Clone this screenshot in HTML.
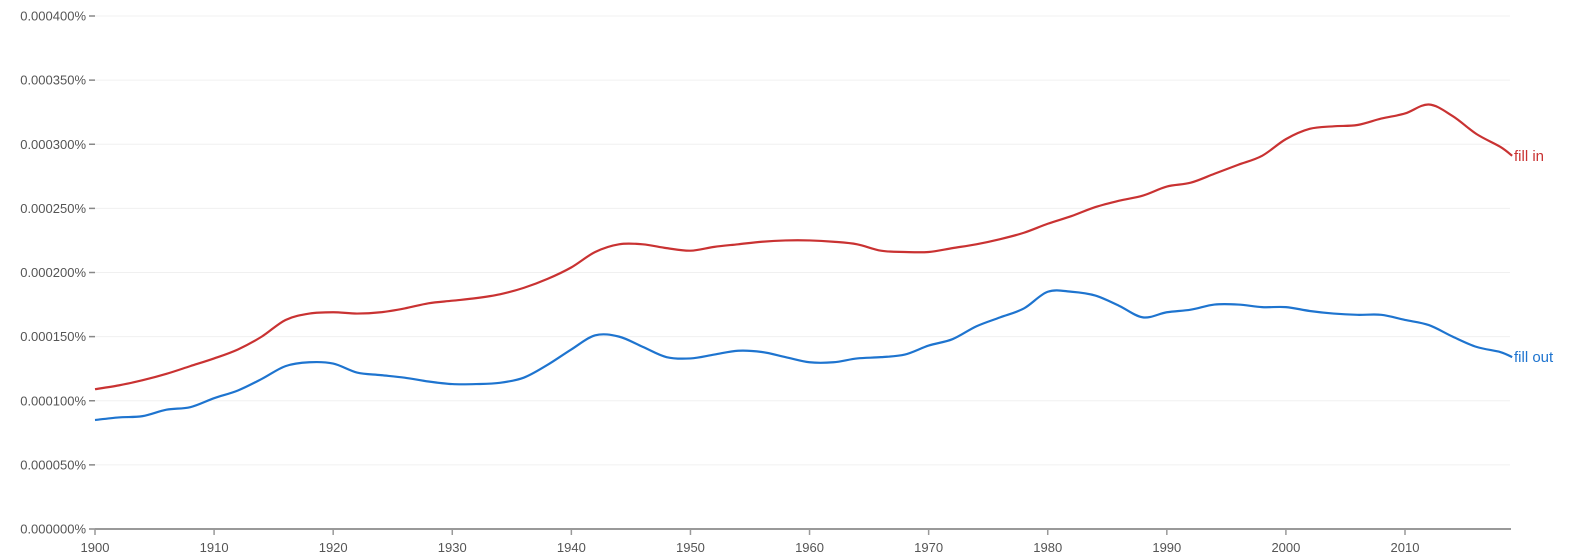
<!DOCTYPE html>
<html><head><meta charset="utf-8"><style>
html,body{margin:0;padding:0;background:#fff;}
svg{display:block;font-family:"Liberation Sans",sans-serif;}
</style></head><body>
<svg id="chart" width="1580" height="560"></svg>
<script>
const years=[1900,1902,1904,1906,1908,1910,1912,1914,1916,1918,1920,1922,1924,1926,1928,1930,1932,1934,1936,1938,1940,1942,1944,1946,1948,1950,1952,1954,1956,1958,1960,1962,1964,1966,1968,1970,1972,1974,1976,1978,1980,1982,1984,1986,1988,1990,1992,1994,1996,1998,2000,2002,2004,2006,2008,2010,2012,2014,2016,2018,2019];
const fillIn=[109,112,116,121,127,133,140,150,163,168,169,168,169,172,176,178,180,183,188,195,204,216,222,222,219,217,220,222,224,225,225,224,222,217,216,216,219,222,226,231,238,244,251,256,260,267,270,277,284,291,304,312,314,315,320,324,331,322,308,298,291];
const fillOut=[85,87,88,93,95,102,108,117,127,130,129,122,120,118,115,113,113,114,118,128,140,151,150,142,134,133,136,139,138,134,130,130,133,134,136,143,148,158,165,172,185,185,182,174,165,169,171,175,175,173,173,170,168,167,167,163,159,150,142,138,134];
const yTicks=[0,50,100,150,200,250,300,350,400];
const yTickLabels=["0.000000%","0.000050%","0.000100%","0.000150%","0.000200%","0.000250%","0.000300%","0.000350%","0.000400%"];
const xTicks=[1900,1910,1920,1930,1940,1950,1960,1970,1980,1990,2000,2010];

const NS="http://www.w3.org/2000/svg";
const svg=document.getElementById('chart');
const x0=95,x1=1405;
const X=y=>x0+(y-1900)*(x1-x0)/110;
const Y=v=>529-v*513/400;
function mk(t,a){const e=document.createElementNS(NS,t);for(const k in a)e.setAttribute(k,a[k]);svg.appendChild(e);return e;}

yTicks.forEach((v,i)=>{
  const g=mk('line',{x1:95,x2:1510,y1:Y(v),y2:Y(v),stroke:i?'#f0f0f0':'none','stroke-width':1});
  
  
  const tk=mk('line',{x1:89,x2:95,y1:Y(v),y2:Y(v),stroke:'#888','stroke-width':1.5});
  
  
  const t=mk('text',{x:86,y:Y(v)+4.5,'text-anchor':'end','font-size':13,fill:'#555'});
  t.textContent=yTickLabels[i];
  
  
});
const ax=mk('line',{x1:95,x2:1511,y1:529,y2:529,stroke:'#999','stroke-width':2});


xTicks.forEach(yr=>{
  const tk=mk('line',{x1:X(yr),x2:X(yr),y1:529,y2:535,stroke:'#999','stroke-width':1.5});
  
  
  const t=mk('text',{x:X(yr),y:552,'text-anchor':'middle','font-size':13,fill:'#555'});
  t.textContent=yr;
  
  
});
function path(vals){
  const p=years.map((yr,i)=>[X(yr),Y(vals[i])]);
  let d='M'+p[0][0]+','+p[0][1];
  for(let i=0;i<p.length-1;i++){
    const a=p[i-1]||p[i],b=p[i],c=p[i+1],e=p[i+2]||c;
    d+=' C'+(b[0]+(c[0]-a[0])/6)+','+(b[1]+(c[1]-a[1])/6)+' '+(c[0]-(e[0]-b[0])/6)+','+(c[1]-(e[1]-b[1])/6)+' '+c[0]+','+c[1];
  }
  return d;
}
const s1=mk('path',{d:path(fillIn),fill:'none',stroke:'#c93232','stroke-width':2.2});


const s2=mk('path',{d:path(fillOut),fill:'none',stroke:'#1e74cf','stroke-width':2.2});


const l1=mk('text',{x:1514,y:Y(fillIn[fillIn.length-1])-9+14,'font-size':15,fill:'#c93232'});
l1.textContent='fill in';


const l2=mk('text',{x:1514,y:Y(fillOut[fillOut.length-1])+5,'font-size':15,fill:'#1e74cf'});
l2.textContent='fill out';


</script>
</body></html>
